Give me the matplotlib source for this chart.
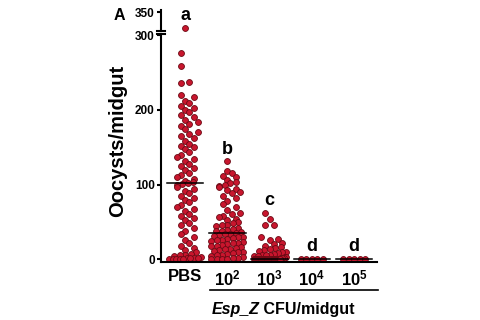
import numpy as np
import matplotlib
matplotlib.use("Agg")
import matplotlib.pyplot as plt
import matplotlib.transforms as mtransforms

plt.rcParams['font.family'] = ['Liberation Sans', 'DejaVu Sans']
plt.rcParams['mathtext.fontset'] = 'custom'
plt.rcParams['mathtext.rm'] = 'Liberation Sans'
plt.rcParams['mathtext.bf'] = 'Liberation Sans:bold'
plt.rcParams['mathtext.it'] = 'Liberation Sans:italic'

# data
groups = ["PBS", r"$\mathbf{10^2}$", r"$\mathbf{10^3}$", r"$\mathbf{10^4}$", r"$\mathbf{10^5}$"]
letters = ["a", "b", "c", "d", "d"]

pbs = [312, 276, 259, 238, 236, 220, 218, 212, 210, 205, 203, 200, 197, 193, 190,
       187, 184, 181, 178, 174, 170, 168, 165, 162, 158, 155, 152, 150, 147, 144,
       140, 137, 134, 131, 128, 125, 122, 119, 116, 113, 110, 108, 105, 103, 102,
       101, 99, 97, 94, 91, 88, 85, 82, 79, 76, 73, 70, 67, 64, 61, 58, 55, 52, 49,
       46, 42, 38, 34, 30, 26, 22, 18, 15, 12, 9, 7, 6, 5, 4, 3, 2, 2, 1, 1, 0, 0, 0, 0, 0]
e2 = [131, 118, 115, 112, 110, 106, 104, 102, 100, 98, 96, 94, 92, 90, 88, 85, 82,
      78, 74, 70, 66, 62, 60, 58, 56, 54, 52, 50, 48, 46, 45, 44, 42, 40, 39, 38,
      37, 36, 35, 34, 33, 32, 31, 30, 29, 28, 27, 26, 25, 24, 23, 22, 21, 20, 19,
      18, 17, 16, 15, 14, 13, 12, 11, 10, 9, 8, 7, 6, 5, 4, 3, 2, 1, 0, 0, 0, 0]
e3 = [62, 54, 46, 45, 30, 27, 25, 22, 20, 18, 16, 15, 14, 12, 11, 10, 9, 8, 7, 6,
      5, 5, 4, 4, 3, 3, 2, 2, 1, 1, 0, 0, 0, 0, 0, 0, 0, 0, 0, 0, 0, 0, 0, 0, 0,
      0, 0, 0, 0, 0, 0, 0, 0, 0, 0, 0, 0, 0, 0, 0, 0, 0]
e4 = [0, 0, 0, 0, 0]
e5 = [0, 0, 0, 0, 0]
all_data = [pbs, e2, e3, e4, e5]

BREAK = 302
dot_face = '#c8162e'
dot_edge = '#6a0a14'


def swarm(vals, row_h=5.0, gap=8.5, dot=5.5, maxw=16.0, ppu=0.745, cat_px=42.3):
    # prism style rows: values binned into rows, spread sideways inside a row
    vals = np.asarray(vals, float)
    xs = np.zeros(len(vals))
    rows = np.round(vals * ppu / row_h).astype(int)
    for r in np.unique(rows):
        idx = np.where(rows == r)[0]
        idx = idx[np.argsort(vals[idx], kind='stable')]
        n = len(idx)
        if n <= 3:
            if r % 2 == 0:
                slots = [0.0, gap, -gap][:n]
            else:
                slots = [-gap / 2, gap / 2, 1.5 * gap][:n]
        else:
            sp = min(dot, 2 * maxw / (n - 1))
            slots = (np.arange(n) - (n - 1) / 2) * sp
        xs[idx] = slots
    return xs / cat_px


fig = plt.figure(figsize=(4.8, 3.2), dpi=100)
ax = fig.add_axes([161 / 480, 58 / 320, 216 / 480, 228 / 320])
axt = fig.add_axes([161 / 480, 289 / 320, 216 / 480, 21 / 320], sharex=ax)

for i, vals in enumerate(all_data):
    v = np.array(vals, float)
    x = i + swarm(v)
    lo = v <= BREAK
    ax.scatter(x[lo], v[lo], s=18, c=dot_face, edgecolors=dot_edge, linewidths=0.6, zorder=2)
    axt.scatter(x[~lo], v[~lo], s=18, c=dot_face, edgecolors=dot_edge, linewidths=0.6,
                zorder=2, clip_on=False)
    med = np.median(v)
    ax.plot([i - 0.43, i + 0.43], [med, med], color='black', lw=1.1, zorder=3)
    top_ax = axt if v.max() > BREAK else ax
    top_ax.annotate(letters[i], (i, v.max()), xytext=(0, 5.5), textcoords='offset points',
                    ha='center', va='baseline', fontsize=13, fontweight='bold',
                    annotation_clip=False)

ax.set_xlim(-0.57, 4.54)
ax.set_ylim(-4, BREAK)
axt.set_ylim(305, 355)

ax.set_yticks([0, 100, 200, 300])
axt.set_yticks([350])
ax.set_xticks(range(len(groups)))
ax.set_xticklabels(groups)
plt.setp(axt.get_xticklabels(), visible=False)

for a in (ax, axt):
    a.spines['right'].set_visible(False)
    a.spines['top'].set_visible(False)
    a.spines['left'].set_linewidth(1.5)
    a.spines['bottom'].set_linewidth(1.5)
    a.tick_params(axis='y', direction='out', length=3, width=1.5, pad=1.5, labelsize=8.5)
    for lab in a.get_yticklabels():
        lab.set_fontweight('bold')
    a.patch.set_visible(False)
axt.spines['bottom'].set_visible(False)
axt.tick_params(axis='x', length=0)
ax.tick_params(axis='x', length=0, pad=5, labelsize=12)
for lab in ax.get_xticklabels():
    lab.set_fontweight('bold')

# break marks
ax.plot([-0.02, 0.02], [1, 1], transform=ax.transAxes, color='black', lw=1.5, clip_on=False)
axt.plot([-0.02, 0.02], [0, 0], transform=axt.transAxes, color='black', lw=1.5, clip_on=False)

# group line and label under the tick labels
trans = mtransforms.blended_transform_factory(ax.transData, ax.transAxes)
ax.plot([0.6, 4.57], [-0.123, -0.123], transform=trans, color='black', lw=1.2, clip_on=False)
t1 = ax.text(0.62, -0.228, "Esp_Z", transform=trans, ha='left', va='baseline',
             fontsize=11.5, fontweight='bold', fontstyle='italic')
ax.annotate(" CFU/midgut", xy=(1, 0), xycoords=t1, va='bottom', ha='left',
            fontsize=11.5, fontweight='bold')

fig.text(118 / 480, 1 - 141 / 320, "Oocysts/midgut", rotation=90, ha='center', va='center',
         fontsize=14.5, fontweight='bold')
fig.text(119 / 480, 1 - 15 / 320, "A", ha='center', va='center', fontsize=11.5, fontweight='bold')

fig.savefig("out.png", dpi=100, facecolor='white')
